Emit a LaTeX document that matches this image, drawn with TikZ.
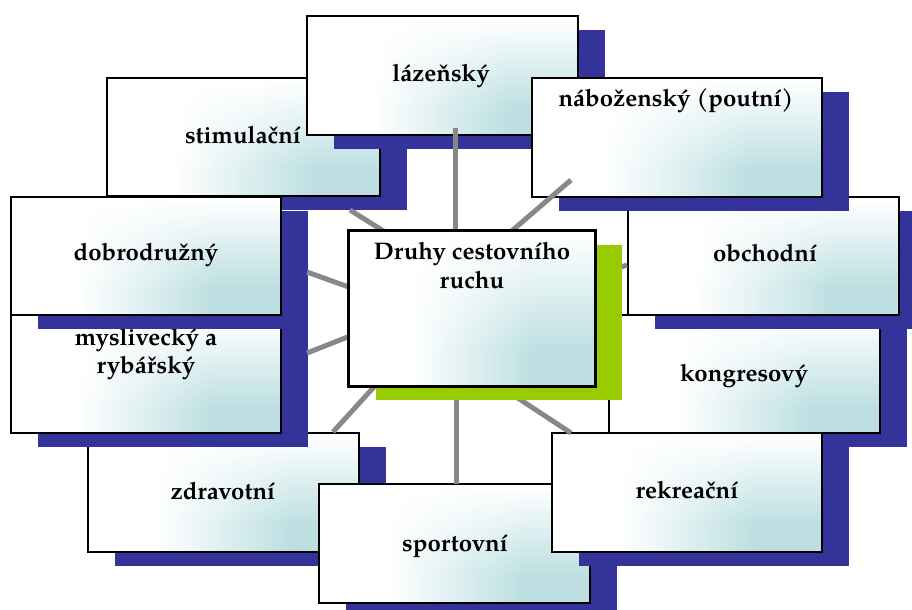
\documentclass[tikz,border=0pt]{standalone}
\usepackage{fontspec}
\setmainfont{TeX Gyre Pagella}
\definecolor{shb}{RGB}{51,51,153}
\definecolor{shg}{RGB}{153,204,0}
\definecolor{ln}{RGB}{136,136,136}
\pgfdeclarefunctionalshading{boxsh}{\pgfpoint{-50bp}{-50bp}}{\pgfpoint{50bp}{50bp}}{}{
  25 sub neg 50 div
  0.02 sub 0.75 div dup 0 lt {pop 0} if dup 1 gt {pop 1} if
  exch
  25 add 50 div 0.25 sub 0.5 div dup 0 lt {pop 0} if dup 1 gt {pop 1} if
  mul
  dup 0.259 mul 1 exch sub
  exch dup 0.125 mul 1 exch sub
  exch 0.114 mul 1 exch sub
}
\tikzset{
  boxnode/.style={draw=black, line width=2bp, shade, shading=boxsh, inner sep=0pt},
  lbl/.style={font=\bfseries\fontsize{24bp}{28bp}\selectfont, align=center, anchor=base, inner sep=0pt},
  conn/.style={draw=ln, line width=5bp},
}
\newcommand\mybox[6]{%
  \fill[#6] ({#2+27},{#3+14}) rectangle ({#4+27},{#5+14});
  \node[boxnode, minimum width={(#4-#2)*1bp}, minimum height={(#5-#3)*1bp}] (#1) at ({(#2+#4)/2},{(#3+#5)/2}) {};
}
\begin{document}
\begin{tikzpicture}[x=1bp,y=-1bp]
\useasboundingbox (0,0) rectangle (912,610);
% boxes, back to front
\mybox{zdr}{88}{433}{359}{552}{shb}
\node[lbl] (tzdr) at (223,499) {zdravotní};
\mybox{mys}{11}{315}{281}{433}{shb}
\node[lbl] (tmys) at (146,373) {myslivecký a\\rybářský};
\mybox{sti}{107}{78}{380}{196}{shb}
\node[lbl] (tsti) at (243,144) {stimulační};
\mybox{dob}{11}{197}{281}{315}{shb}
\node[lbl] (tdob) at (146,261) {dobrodružný};
\mybox{spo}{319}{484}{590}{603}{shb}
\node[lbl] (tspo) at (455,551) {sportovní};
\mybox{kon}{609}{315}{880}{433}{shb}
\node[lbl] (tkon) at (744,381) {kongresový};
\mybox{rek}{552}{433}{822}{552}{shb}
\node[lbl] (trek) at (687,498) {rekreační};
\mybox{obc}{628}{197}{899}{315}{shb}
\node[lbl] (tobc) at (765,262) {obchodní};
\mybox{laz}{307}{16}{578}{135}{shb}
\node[lbl] (tlaz) at (441,82) {lázeňský};
\mybox{nab}{532}{78}{822}{197}{shb}
\node[lbl] (tnab) at (676,107) {náboženský (poutní)};
% connector ends
\coordinate (e1) at (455,128);   \coordinate (h1) at (455,240);
\coordinate (e2) at (571,180);   \coordinate (h2) at (500,241);
\coordinate (e3) at (627,265);   \coordinate (h3) at (600,274);
\coordinate (e4) at (571,433);   \coordinate (h4) at (501,387);
\coordinate (e5) at (456,484);   \coordinate (h5) at (456,390);
\coordinate (e6) at (333,432);   \coordinate (h6) at (393,366);
\coordinate (e7) at (307,353);   \coordinate (h7) at (368,329);
\coordinate (e8) at (307,272);   \coordinate (h8) at (368,294);
\coordinate (e9) at (350,210);   \coordinate (h9) at (401,242);
\foreach \i in {1,...,9} { \draw[conn] (h\i) -- (e\i); }
% centre
\mybox{cen}{349}{231}{595}{386}{shg}
\draw[black, line width=2.6bp] (cen.south west) rectangle (cen.north east);
\node[lbl] (tcen) at (472,288) {Druhy cestovního\\ruchu};
\end{tikzpicture}
\end{document}
